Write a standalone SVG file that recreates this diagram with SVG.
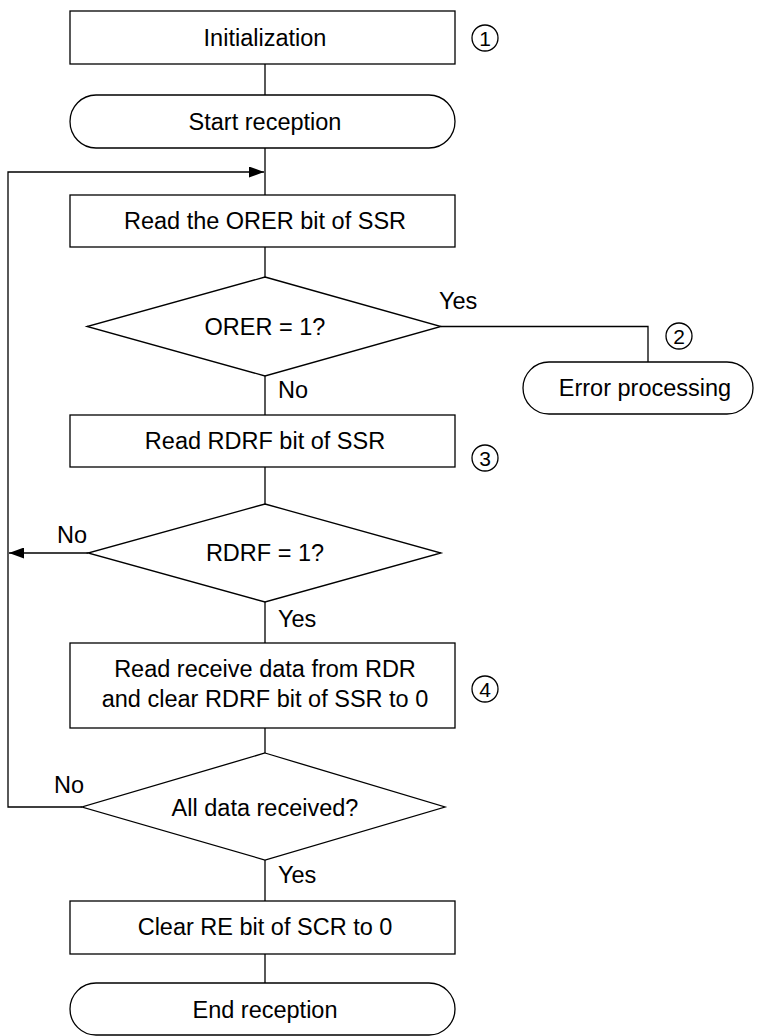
<svg xmlns="http://www.w3.org/2000/svg" width="765" height="1036" viewBox="0 0 765 1036">
<style>
.s{fill:#fff;stroke:#000;stroke-width:1.3}
.c{fill:none;stroke:#000;stroke-width:1.3}
text{font-family:"Liberation Sans",Arial,sans-serif;font-size:23.5px;fill:#000}
.m{text-anchor:middle}
.n{font-size:21px}
</style>
<defs>
<marker id="ah" markerWidth="16" markerHeight="11" refX="15" refY="5.5" orient="auto" markerUnits="userSpaceOnUse">
<path d="M0,0 L15,5.5 L0,11 Z" fill="#000"/>
</marker>
</defs>
<g id="connectors">
<path class="c" d="M265,64V95M265,148V195M265,247V277M265,376V415M265,467V504M265,602V643M265,728V753M265,860V901M265,954V983"/>
<path class="c" d="M441,326.5H648V362"/>
<path class="c" d="M88,553H9" marker-end="url(#ah)"/>
<path class="c" d="M82,807H8V172H264" marker-end="url(#ah)"/>
<text x="439" y="309">Yes</text>
<text x="278" y="398">No</text>
<text x="57" y="543">No</text>
<text x="278" y="627">Yes</text>
<text x="54" y="793">No</text>
<text x="278" y="883">Yes</text>
</g>
<g id="init">
<rect class="s" x="70" y="11" width="385" height="53"/>
<text class="m" x="265" y="46">Initialization</text>
<circle class="c" cx="485" cy="38" r="13"/>
<text class="m n" x="485" y="45.5">1</text>
</g>
<g id="start">
<rect class="s" x="70" y="95" width="385" height="53" rx="26" ry="26.5"/>
<text class="m" x="265" y="130">Start reception</text>
</g>
<g id="readorer">
<rect class="s" x="70" y="195" width="385" height="52"/>
<text class="m" x="265" y="229">Read the ORER bit of SSR</text>
</g>
<g id="orer">
<path class="s" d="M265,277L441,326.5L265,376L87,326.5Z"/>
<text class="m" x="265" y="335">ORER = 1?</text>
</g>
<g id="error">
<rect class="s" x="523" y="362" width="230" height="52" rx="26" ry="26"/>
<text class="m" x="645" y="396">Error processing</text>
<circle class="c" cx="679" cy="336" r="13"/>
<text class="m n" x="679" y="343.5">2</text>
</g>
<g id="readrdrf">
<rect class="s" x="70" y="415" width="385" height="52"/>
<text class="m" x="265" y="449">Read RDRF bit of SSR</text>
<circle class="c" cx="485" cy="458" r="13"/>
<text class="m n" x="485" y="465.5">3</text>
</g>
<g id="rdrf">
<path class="s" d="M265,504L441,553L265,602L88,553Z"/>
<text class="m" x="265" y="561">RDRF = 1?</text>
</g>
<g id="readdata">
<rect class="s" x="70" y="643" width="385" height="85"/>
<text class="m" x="265" y="677">Read receive data from RDR</text>
<text class="m" x="265" y="707">and clear RDRF bit of SSR to 0</text>
<circle class="c" cx="485" cy="689" r="13"/>
<text class="m n" x="485" y="696.5">4</text>
</g>
<g id="alldata">
<path class="s" d="M265,753L445,807L265,860L82,807Z"/>
<text class="m" x="265" y="816">All data received?</text>
</g>
<g id="clearre">
<rect class="s" x="70" y="901" width="385" height="53"/>
<text class="m" x="265" y="935">Clear RE bit of SCR to 0</text>
</g>
<g id="end">
<rect class="s" x="70" y="983" width="385" height="52" rx="26" ry="26"/>
<text class="m" x="265" y="1018">End reception</text>
</g>
</svg>
